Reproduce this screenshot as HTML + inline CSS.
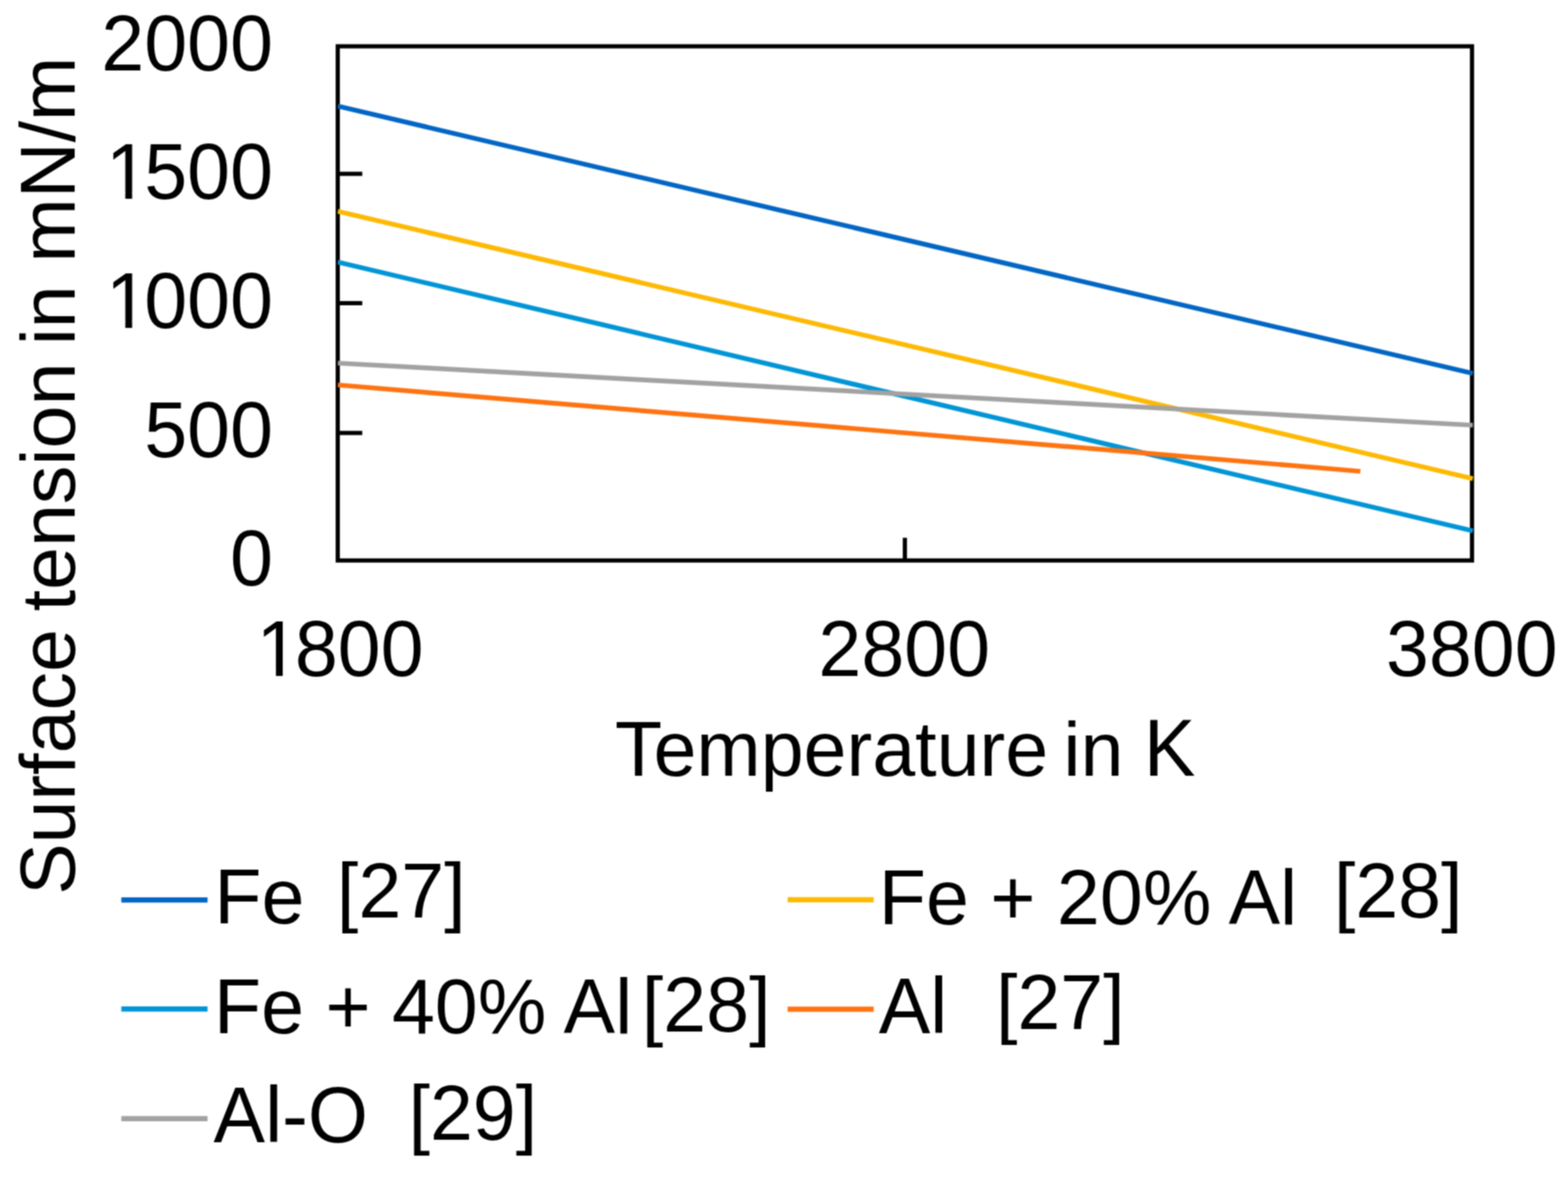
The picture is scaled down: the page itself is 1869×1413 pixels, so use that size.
<!DOCTYPE html>
<html><head><meta charset="utf-8"><title>Surface tension vs temperature</title>
<style>
html,body{margin:0;padding:0;background:#fff;width:1869px;height:1413px;overflow:hidden;}
svg{display:block;}
text{font-family:"Liberation Sans",Arial,sans-serif;fill:#000;font-size:92px;}
</style></head>
<body>
<svg width="1869" height="1413" viewBox="0 0 1869 1413">
<defs><filter id="soft" filterUnits="userSpaceOnUse" x="0" y="0" width="1869" height="1413" color-interpolation-filters="sRGB"><feConvolveMatrix order="3" kernelMatrix="1 2 1 2 4 2 1 2 1" divisor="16" edgeMode="duplicate"/></filter>
<clipPath id="c1" clipPathUnits="userSpaceOnUse"><path clip-rule="evenodd" d="M-2000 -2000H4000V2000H-2000ZM10.5 -8H28.64V3H10.5ZM36.77 -8H54.5V3H36.77Z"/></clipPath>
<clipPath id="pc"><rect x="402.3" y="0" width="1355.0" height="1413"/></clipPath></defs>
<g filter="url(#soft)">
<rect x="0" y="0" width="1869" height="1413" fill="#fff"/>
<g>
<text transform="translate(325.4,83.7) scale(1,1.027)" text-anchor="end">2000</text>
<text transform="translate(120.73,237.4) scale(1,1.027)" x="5.5 51.16 102.33 153.48" clip-path="url(#c1)">1500</text>
<text transform="translate(120.73,391.2) scale(1,1.027)" x="5.5 51.16 102.33 153.48" clip-path="url(#c1)">1000</text>
<text transform="translate(325.4,544.8) scale(1,1.027)" text-anchor="end">500</text>
<text transform="translate(325.4,697.8) scale(1,1.027)" text-anchor="end">0</text>
<text transform="translate(300.26,806.1) scale(1,1.027)" x="5.5 51.16 102.33 153.48" clip-path="url(#c1)">1800</text>
<text transform="translate(1077.8,806.1) scale(1,1.027)" text-anchor="middle">2800</text>
<text transform="translate(1754.3,806.1) scale(1,1.027)" text-anchor="middle">3800</text>
<text transform="translate(401.6,1093.6) scale(1,1.015)">[27]</text>
<text transform="translate(765.05,1230.3) scale(1,1.015)">[28]</text>
<text transform="translate(486.9,1358.7) scale(1,1.015)">[29]</text>
<text transform="translate(1589.9,1094) scale(1,1.015)">[28]</text>
<text transform="translate(1187.15,1227) scale(1,1.015)">[27]</text>
<text transform="translate(732.9,925)">Temperature</text>
<text transform="translate(1267.6,925) scale(1,0.986)">in</text>
<text transform="translate(1363.4,925) scale(1,1.046)">K</text>
<text transform="translate(89.2,1067.05) rotate(-90)">Surface</text>
<text transform="translate(89.2,729) rotate(-90) scale(1,0.986)">tension</text>
<text transform="translate(89.2,411.85) rotate(-90) scale(1,0.986)">in</text>
<text transform="translate(89.2,312.9) rotate(-90)">mN/m</text>
<text transform="translate(255.5,1101.3) scale(1,1.015)">Fe</text>
<text transform="translate(255,1231.6) scale(1,1.015)">Fe + 40% Al</text>
<text transform="translate(254.55,1362) scale(1,1.03)">Al-O</text>
<text transform="translate(1047.6,1101.6) scale(1,1.015)">Fe + 20% Al</text>
<text transform="translate(1047.5,1231.8) scale(1,1.02)">Al</text>
</g>
<g fill="none" stroke="#000" stroke-width="5">
<rect x="402.6" y="55.2" width="1352.0" height="613.1"/>
<path d="M402.6 207.2H431.8M402.6 361.6H431.8M402.6 516.2H431.8M1078.6 668.3V641.3"/>
</g>
<g fill="none" stroke-width="5.7" clip-path="url(#pc)">
<line x1="402.6" y1="126.5" x2="1755.6" y2="445.2" stroke="#0366C4"/>
<line x1="402.6" y1="251.9" x2="1755.6" y2="570.7" stroke="#FDB904"/>
<line x1="402.6" y1="312.4" x2="1755.6" y2="633.0" stroke="#0295D6"/>
<line x1="402.6" y1="459.0" x2="1621.5" y2="562.0" stroke="#FE7311"/>
<line x1="402.6" y1="433.0" x2="1755.6" y2="507.0" stroke="#A2A2A2"/>
</g>
<g fill="none" stroke-width="6.2">
<line x1="144.6" y1="1073.1" x2="247.4" y2="1073.1" stroke="#0366C4"/>
<line x1="144.6" y1="1203.1" x2="247.4" y2="1203.1" stroke="#0295D6"/>
<line x1="144.6" y1="1333.9" x2="247.4" y2="1333.9" stroke="#A2A2A2"/>
<line x1="938.8" y1="1072.9" x2="1041.4" y2="1072.9" stroke="#FDB904"/>
<line x1="938.8" y1="1203.3" x2="1041.4" y2="1203.3" stroke="#FE7311"/>
</g>
</g>
</svg>
</body></html>
